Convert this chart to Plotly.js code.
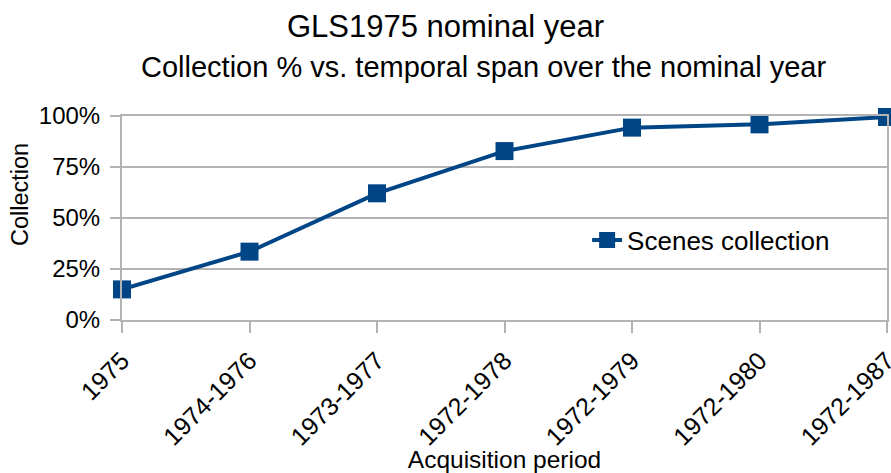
<!DOCTYPE html>
<html>
<head>
<meta charset="utf-8">
<script src="https://cdn.plot.ly/plotly-3.0.1.min.js"></script>
<style>html,body{margin:0;padding:0;background:#fff;}#chart{width:891px;height:473px;}</style>
</head>
<body>
<div id="chart"></div>
<script>
const categories = ['1975', '1974-1976', '1973-1977', '1972-1978', '1972-1979', '1972-1980', '1972-1987'];
const collection = [0.150, 0.335, 0.621, 0.828, 0.943, 0.959, 0.995];
const yTickValues = [0, 0.25, 0.5, 0.75, 1];
const yTickLabels = ['0%', '25%', '50%', '75%', '100%'];

const FONT = 'Liberation Sans, Arial, sans-serif';
const GRID = '#b3b3b3';
const BLUE = '#004586';

const trace = {
  type: 'scatter',
  mode: 'lines+markers',
  x: categories,
  y: collection,
  name: 'Scenes collection',
  line: {color: BLUE, width: 4},
  marker: {color: BLUE, symbol: 'square', size: 18},
  cliponaxis: false
};

const layout = {
  width: 891,
  height: 473,
  paper_bgcolor: '#fff',
  plot_bgcolor: '#fff',
  margin: {l: 122, r: 4, t: 116, b: 153},
  font: {family: FONT, color: '#000'},
  title: {
    text: 'GLS1975 nominal year',
    font: {family: FONT, size: 31, color: '#000'},
    x: 0.5, xanchor: 'center', xref: 'container',
    y: 0.945, yanchor: 'middle', yref: 'container'
  },
  annotations: [{
    text: 'Collection % vs. temporal span over the nominal year',
    xref: 'paper', yref: 'paper',
    x: (483 - 122) / 765, y: 1.24, xanchor: 'center', yanchor: 'middle',
    showarrow: false,
    font: {family: FONT, size: 29, color: '#000'}
  }, {
    text: 'Collection',
    xref: 'paper', yref: 'paper',
    x: (20 - 122) / 765, y: (320 - 195) / 204, xanchor: 'center', yanchor: 'middle',
    textangle: -90,
    showarrow: false,
    font: {family: FONT, size: 23.5, color: '#000'}
  }],
  showlegend: true,
  legend: {
    x: 0.608, y: 0.392, xanchor: 'left', yanchor: 'middle',
    bgcolor: 'rgba(0,0,0,0)',
    font: {family: FONT, size: 26, color: '#000'}
  },
  xaxis: {
    type: 'category',
    range: [0, 6],
    tickangle: -45,
    ticks: 'outside', ticklen: 11, tickwidth: 2, tickcolor: GRID,
    ticklabelstandoff: 3,
    showgrid: false,
    showline: true, linecolor: GRID, linewidth: 2, mirror: true,
    zeroline: false,
    tickfont: {family: FONT, size: 25, color: '#000'},
    title: {text: 'Acquisition period', font: {family: FONT, size: 24.5, color: '#000'}, standoff: 0}
  },
  yaxis: {
    range: [0, 1],
    tickvals: yTickValues,
    ticktext: yTickLabels,
    ticks: 'outside', ticklen: 10, tickwidth: 2, tickcolor: GRID,
    ticklabelstandoff: 5,
    showgrid: true, gridcolor: GRID, gridwidth: 2,
    showline: true, linecolor: GRID, linewidth: 2, mirror: true,
    zeroline: false,
    tickfont: {family: FONT, size: 24, color: '#000'}
  }
};

Plotly.newPlot('chart', [trace], layout, {staticPlot: true, displayModeBar: false});
</script>
</body>
</html>
